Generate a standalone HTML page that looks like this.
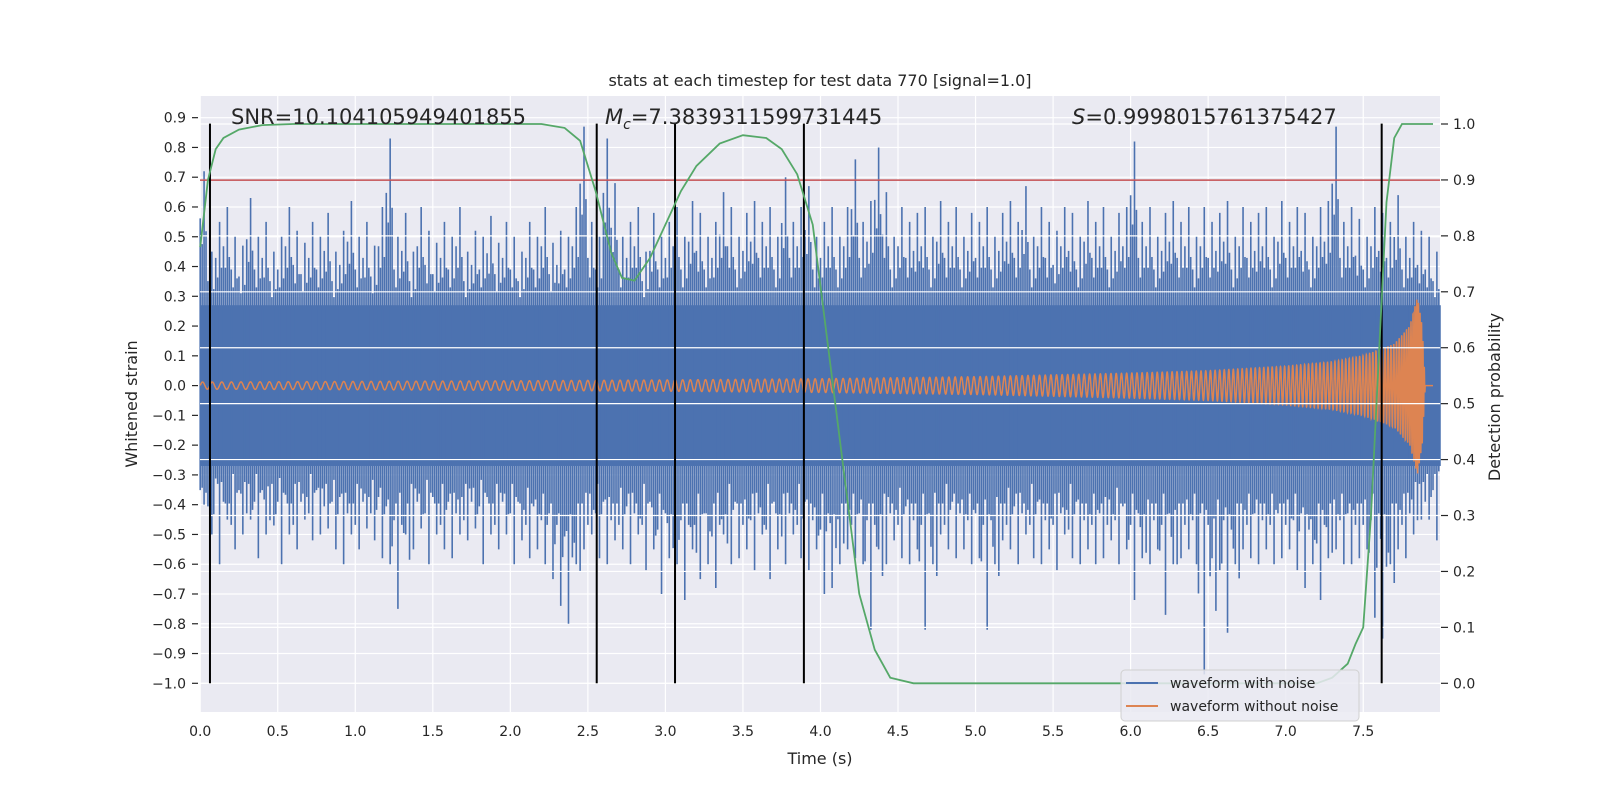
<!DOCTYPE html>
<html><head><meta charset="utf-8"><style>
body{margin:0;background:#fff}
svg{display:block;font-family:"DejaVu Sans","Liberation Sans",sans-serif}
</style></head><body>
<svg id="chart" width="1600" height="800" viewBox="0 0 1600 800">
<rect x="0" y="0" width="1600" height="800" fill="#fff"/>
<rect x="200" y="96" width="1240" height="616" fill="#EAEAF2"/>
<g id="gridL"></g>
<g id="blue"></g>
<g id="orange"></g>
<g id="gridR"></g>
<g id="vlines"></g>
<g id="green"></g>
<g id="ticks"></g>
<text x="820" y="86" font-size="16" text-anchor="middle" fill="#262626">stats at each timestep for test data 770 [signal=1.0]</text>
<text x="820" y="764" font-size="16" text-anchor="middle" fill="#262626">Time (s)</text>
<text transform="translate(137,404) rotate(-90)" font-size="16" text-anchor="middle" fill="#262626">Whitened strain</text>
<text transform="translate(1500,397) rotate(-90)" font-size="16" text-anchor="middle" fill="#262626">Detection probability</text>
<text x="231" y="124" font-size="21" fill="#262626">SNR=10.104105949401855</text>
<text x="605" y="124" font-size="21" fill="#262626"><tspan font-style="italic">M</tspan><tspan font-style="italic" font-size="14" dy="5">c</tspan><tspan dy="-5">=7.3839311599731445</tspan></text>
<text x="1072" y="124" font-size="21" fill="#262626"><tspan font-style="italic">S</tspan>=0.9998015761375427</text>
<g>
<rect x="1121" y="670" width="238" height="51" rx="4" fill="#EAEAF2" fill-opacity="0.85" stroke="#d0d0d0"/>
<line x1="1126" y1="683" x2="1158" y2="683" stroke="#4C72B0" stroke-width="2"/>
<text x="1170" y="688" font-size="14" fill="#262626">waveform with noise</text>
<line x1="1126" y1="706" x2="1158" y2="706" stroke="#DD8452" stroke-width="2"/>
<text x="1170" y="711" font-size="14" fill="#262626">waveform without noise</text>
</g>
</svg>
<script>
const noiseHi=[0.72,0.45,0.55,0.6,0.5,0.47,0.63,0.5,0.55,0.45,0.5,0.6,0.52,0.48,0.55,0.5,0.58,0.45,0.52,0.62,
0.5,0.55,0.47,0.6,0.83,0.5,0.58,0.45,0.6,0.52,0.48,0.55,0.5,0.6,0.45,0.52,0.5,0.57,0.48,0.55,
0.5,0.45,0.55,0.5,0.6,0.48,0.52,0.5,0.6,0.87,0.55,0.5,0.83,0.68,0.5,0.55,0.6,0.45,0.58,0.5,
0.55,0.6,0.5,0.62,0.58,0.5,0.55,0.65,0.6,0.5,0.58,0.62,0.55,0.6,0.5,0.7,0.55,0.6,0.67,0.5,
0.55,0.6,0.5,0.6,0.76,0.55,0.62,0.8,0.65,0.5,0.6,0.55,0.58,0.6,0.5,0.62,0.55,0.6,0.5,0.58,
0.55,0.6,0.5,0.58,0.62,0.55,0.67,0.5,0.6,0.55,0.52,0.6,0.58,0.5,0.62,0.55,0.6,0.5,0.58,0.6,
0.82,0.55,0.6,0.5,0.58,0.62,0.55,0.6,0.5,0.6,0.55,0.58,0.62,0.5,0.6,0.55,0.58,0.6,0.5,0.62,
0.55,0.6,0.58,0.5,0.6,0.62,0.87,0.55,0.6,0.56,0.5,0.6,0.58,0.55,0.64,0.5,0.55,0.52,0.5,0.45];
const noiseLo=[-0.45,-0.52,-0.4,-0.5,-0.6,-0.45,-0.55,-0.5,-0.45,-0.58,-0.5,-0.47,-0.6,-0.5,-0.55,-0.45,-0.52,-0.5,-0.48,-0.55,
-0.6,-0.5,-0.55,-0.48,-0.52,-0.58,-0.6,-0.75,-0.5,-0.55,-0.48,-0.6,-0.5,-0.55,-0.58,-0.5,-0.52,-0.48,-0.6,-0.5,
-0.55,-0.5,-0.6,-0.52,-0.58,-0.55,-0.6,-0.65,-0.74,-0.8,-0.6,-0.55,-0.5,-0.58,-0.6,-0.52,-0.55,-0.6,-0.5,-0.62,
-0.55,-0.7,-0.58,-0.6,-0.72,-0.55,-0.65,-0.6,-0.68,-0.5,-0.6,-0.58,-0.55,-0.62,-0.5,-0.65,-0.55,-0.6,-0.5,-0.58,
-0.62,-0.55,-0.7,-0.68,-0.6,-0.55,-0.58,-0.6,-0.82,-0.55,-0.6,-0.52,-0.58,-0.6,-0.55,-0.82,-0.6,-0.5,-0.55,-0.58,
-0.55,-0.6,-0.58,-0.82,-0.6,-0.52,-0.55,-0.6,-0.5,-0.58,-0.6,-0.55,-0.62,-0.5,-0.58,-0.6,-0.55,-0.6,-0.58,-0.52,
-0.6,-0.55,-0.72,-0.58,-0.6,-0.55,-0.77,-0.6,-0.58,-0.55,-0.6,-0.97,-0.58,-0.62,-0.83,-0.6,-0.55,-0.58,-0.6,-0.55,
-0.6,-0.58,-0.55,-0.62,-0.68,-0.6,-0.72,-0.58,-0.55,-0.6,-0.6,-0.58,-0.55,-0.78,-0.85,-0.6,-0.55,-0.58,-0.5,-0.45];
const noiseStep=0.05;
const noiseCore=0.27;
const chirpT=[0,1,2,3,4,5,6,6.5,7,7.3,7.5,7.7,7.8,7.85,7.88,7.9,7.95];
const chirpAmp=[0.012,0.014,0.016,0.019,0.023,0.03,0.042,0.05,0.065,0.08,0.1,0.14,0.2,0.3,0.2,0,0];
const chirpFreq=[16,17,18,20,22,25,30,33,38,42,46,55,70,90,110,120,120];
const probT=[0,0.05,0.1,0.15,0.25,0.4,0.6,2.2,2.35,2.45,2.55,2.65,2.72,2.8,2.9,3.0,3.1,3.2,3.35,3.5,3.65,3.75,3.85,3.95,4.05,4.15,4.25,4.35,4.45,4.6,7.2,7.3,7.4,7.45,7.5,7.55,7.6,7.65,7.7,7.75,7.95];
const probV=[0.78,0.9,0.955,0.975,0.99,0.998,1.0,1.0,0.993,0.97,0.88,0.77,0.725,0.72,0.76,0.82,0.88,0.925,0.965,0.98,0.975,0.955,0.91,0.82,0.6,0.38,0.16,0.06,0.01,0.0,0.0,0.01,0.035,0.07,0.1,0.3,0.58,0.86,0.975,1.0,1.0];
const eventTimes=[0.063,2.557,3.062,3.893,7.619];
const threshold=0.69;
const xTicks=[0,0.5,1,1.5,2,2.5,3,3.5,4,4.5,5,5.5,6,6.5,7,7.5];
const yLeftTicks=[-1.0,-0.9,-0.8,-0.7,-0.6,-0.5,-0.4,-0.3,-0.2,-0.1,0.0,0.1,0.2,0.3,0.4,0.5,0.6,0.7,0.8,0.9];
const yRightTicks=[0,0.1,0.2,0.3,0.4,0.5,0.6,0.7,0.8,0.9,1.0];

const NS='http://www.w3.org/2000/svg';
const X=t=>200.2+t*155.07;
const YL=v=>385.6-v*297.7;
const YR=v=>683.3-v*559.3;
function mk(tag,attrs,parent){const e=document.createElementNS(NS,tag);for(const k in attrs)e.setAttribute(k,attrs[k]);document.getElementById(parent).appendChild(e);return e;}
function interp(xs,ys,x){if(x<=xs[0])return ys[0];for(let i=1;i<xs.length;i++){if(x<=xs[i]){const f=(x-xs[i-1])/(xs[i]-xs[i-1]);return ys[i-1]+f*(ys[i]-ys[i-1]);}}return ys[ys.length-1];}

yLeftTicks.forEach(v=>{const l=mk('line',{x1:200,x2:1440,y1:YL(v),y2:YL(v),stroke:'#fff','stroke-width':1.2},'gridL');

});
xTicks.forEach(t=>{const l=mk('line',{x1:X(t),x2:X(t),y1:96,y2:712,stroke:'#fff','stroke-width':1.2},'gridL');

});

// blue noise
const tEnd=noiseHi.length*noiseStep;
const core=mk('rect',{x:X(0),y:YL(noiseCore),width:X(tEnd)-X(0),height:YL(-noiseCore)-YL(noiseCore),fill:'#4C72B0'},'blue');


const subOff=[0,0.0125,0.025,0.0375];
const subScale=[0.78,0.66,1,0.72];
noiseHi.forEach((v,i)=>{subOff.forEach((o,k)=>{const t=i*noiseStep+o;const s=subScale[k];
const l=mk('line',{x1:X(t),x2:X(t),y1:YL(v*s),y2:YL(noiseLo[(i+k)%noiseLo.length]*s),stroke:'#4C72B0','stroke-width':1.6},'blue');

});});

// orange chirp
let pts=[],ph=0,dt=0.0005;
for(let t=0;t<=7.95;t+=dt){const f=interp(chirpT,chirpFreq,t);ph+=2*Math.PI*f*dt;const a=interp(chirpT,chirpAmp,t);pts.push(X(t).toFixed(2)+','+YL(a*Math.sin(ph)).toFixed(2));}
const op=mk('polyline',{points:pts.join(' '),fill:'none',stroke:'#DD8452','stroke-width':1.5},'orange');



yRightTicks.forEach(v=>{const l=mk('line',{x1:200,x2:1440,y1:YR(v),y2:YR(v),stroke:'#fff','stroke-width':1.2},'gridR');

});

const red=mk('line',{x1:200,x2:1440,y1:YL(threshold),y2:YL(threshold),stroke:'#C44E52','stroke-width':1.5},'vlines');


eventTimes.forEach(t=>{const l=mk('line',{x1:X(t),x2:X(t),y1:YL(0.88),y2:YL(-1.0),stroke:'#000','stroke-width':2},'vlines');

});

const gp=mk('polyline',{points:probT.map((t,i)=>X(t).toFixed(2)+','+YR(probV[i]).toFixed(2)).join(' '),fill:'none',stroke:'#55A868','stroke-width':1.8},'green');



xTicks.forEach(t=>{const e=mk('text',{x:X(t),y:736,'font-size':14,'text-anchor':'middle',fill:'#262626'},'ticks');e.textContent=t.toFixed(1);

});
yLeftTicks.forEach(v=>{const e=mk('text',{x:186,y:YL(v)+5,'font-size':14,'text-anchor':'end',fill:'#262626'},'ticks');e.textContent=(v<0?'\u2212':'')+Math.abs(v).toFixed(1);


const m=mk('line',{x1:192,x2:198,y1:YL(v),y2:YL(v),stroke:'#262626','stroke-width':1.2},'ticks');

});
yRightTicks.forEach(v=>{const e=mk('text',{x:1453,y:YR(v)+5,'font-size':14,fill:'#262626'},'ticks');e.textContent=v.toFixed(1);


const m=mk('line',{x1:1441,x2:1448,y1:YR(v),y2:YR(v),stroke:'#262626','stroke-width':1.2},'ticks');

});
</script>
</body></html>
